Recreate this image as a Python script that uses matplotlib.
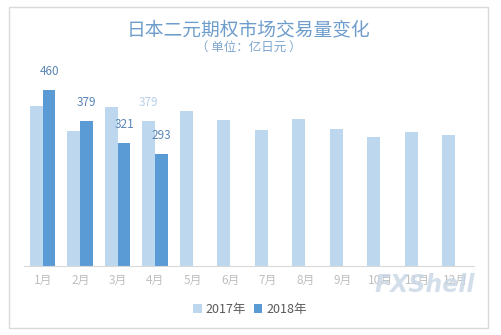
import matplotlib
matplotlib.use("Agg")
import matplotlib.pyplot as plt
from matplotlib.patches import Rectangle
import numpy as np

plt.rcParams['font.family'] = ['Noto Sans CJK SC', 'DejaVu Sans']

months = ["1月", "2月", "3月", "4月", "5月", "6月", "7月", "8月", "9月", "10月", "11月", "12月"]
vol_2017 = [418, 353, 416, 379, 405, 382, 355, 384, 358, 337, 350, 342]
vol_2018 = [460, 379, 321, 293]
series_names = ["2017年", "2018年"]

c17 = "#BDD7EE"
c18 = "#5B9BD5"

fig = plt.figure(figsize=(5.02, 3.35), dpi=100)
fig.patch.set_facecolor("white")

# outer frame
fig.add_artist(Rectangle((9 / 502, 1 - 328 / 335), 479 / 502, 321 / 335,
                         transform=fig.transFigure, fill=False,
                         edgecolor="#D9D9D9", linewidth=1))

ax = fig.add_axes([24 / 502, 1 - 266 / 335, 450 / 502, 191 / 335])
x = np.arange(len(months))
w = 0.34
b17 = ax.bar(x - w / 2, vol_2017, width=w, color=c17, label=series_names[0])
x18 = np.arange(len(vol_2018))
b18 = ax.bar(x18 + w / 2, vol_2018, width=w, color=c18, label=series_names[1])

ax.set_xlim(-0.5, len(months) - 0.5)
ax.set_ylim(0, 500)
ax.set_yticks([])
for s in ["left", "right", "top"]:
    ax.spines[s].set_visible(False)
ax.spines["bottom"].set_color("#D9D9D9")
ax.set_xticks(x)
ax.set_xticklabels(months, color="#BFBFBF", fontsize=8.5)
ax.tick_params(axis="x", length=0, pad=6)

# value labels
for xi, v in zip(x18, vol_2018):
    ax.annotate(str(v), (xi + w / 2, v), xytext=(0, 9), textcoords="offset points",
                ha="center", va="bottom", fontsize=8.5, color="#5A86B5",
                annotation_clip=False)
ax.annotate(str(vol_2017[3]), (3 - w / 2, vol_2017[3]), xytext=(0, 9),
            textcoords="offset points", ha="center", va="bottom",
            fontsize=8.5, color="#B8CFE8", annotation_clip=False)

fig.text(249 / 502, 1 - 30 / 335, "日本二元期权市场交易量变化", ha="center",
         va="center", fontsize=13.5, color="#6E9DCC")
fig.text(249 / 502, 1 - 47 / 335, "（ 单位：亿日元 ）", ha="center",
         va="center", fontsize=9, color="#7FA7D0")

fig.text(425 / 502, 1 - 285 / 335, "FXShell", ha="center", va="center",
         fontsize=17, fontweight="bold", style="italic", color="#C9D6E6",
         family="DejaVu Sans", alpha=0.8, zorder=0)

leg = fig.legend(handles=[b17, b18], labels=series_names, loc="center",
                 bbox_to_anchor=(250 / 502, 1 - 309 / 335), ncol=2, frameon=False,
                 fontsize=9, handlelength=0.7, handleheight=0.7,
                 handletextpad=0.3, columnspacing=0.6)
for t in leg.get_texts():
    t.set_color("#595959")

fig.savefig("out.png", dpi=100, facecolor="white")
